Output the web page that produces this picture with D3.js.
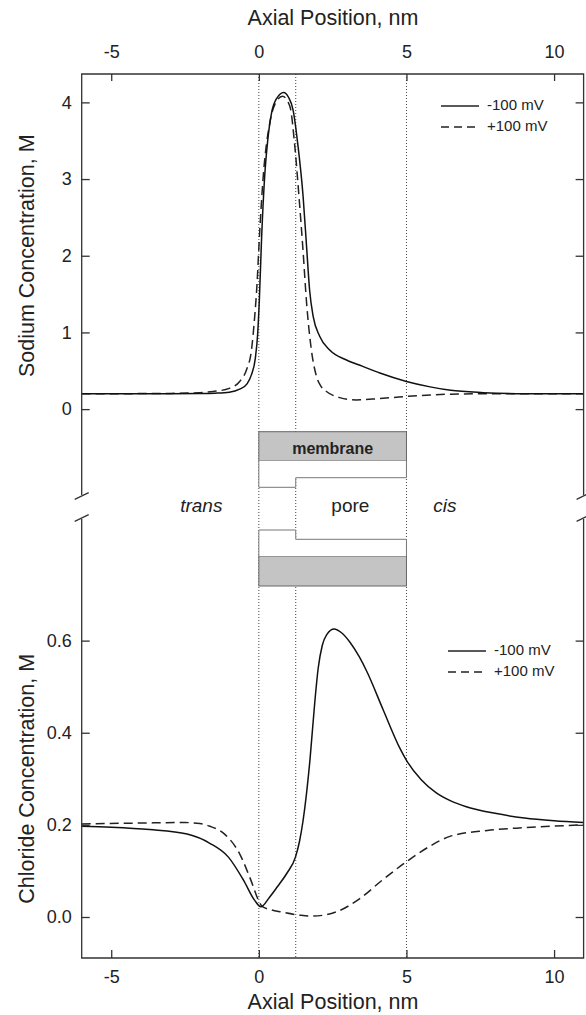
<!DOCTYPE html>
<html>
<head>
<meta charset="utf-8">
<script src="https://cdn.jsdelivr.net/npm/d3@7"></script>
<style>
  html, body { margin: 0; padding: 0; background: #fff; }
  svg { display: block; }
  text { font-family: "Liberation Sans", Arial, sans-serif; fill: #222; }
</style>
</head>
<body>
<svg id="chart" width="586" height="1015"></svg>
<script>
// ---------------- DATA ----------------
const xTicks = [-5, 0, 5, 10];
const naTicks = [0, 1, 2, 3, 4];
const clTicks = [0.0, 0.2, 0.4, 0.6];
const regionLines = [0, 1.25, 5];
const seriesNames = ["-100 mV", "+100 mV"];
const xTitle = "Axial Position, nm";
const naTitle = "Sodium Concentration, M";
const clTitle = "Chloride Concentration, M";
const regionLabels = ["trans", "pore", "cis"];
const regionLabelX = [-1.95, 3.1, 6.3];

// Sodium, -100 mV (solid)
const naNeg = [[-6,0.2],[-3,0.2],[-2,0.203],[-1.5,0.208],[-1,0.22],[-0.65,0.26],[-0.4,0.33],[-0.25,0.45],[-0.12,0.66],[-0.04,0.98],[0.02,1.45],[0.09,2.2],[0.2,3.05],[0.3,3.5],[0.43,3.86],[0.6,4.05],[0.84,4.13],[1.0,4.07],[1.16,3.9],[1.33,3.42],[1.5,2.77],[1.62,2.1],[1.72,1.55],[1.84,1.21],[2.06,0.95],[2.4,0.77],[2.97,0.64],[3.5,0.56],[4.1,0.47],[5.0,0.36],[5.8,0.29],[6.5,0.245],[7.6,0.215],[9,0.2],[11,0.2]];
// Sodium, +100 mV (dashed)
const naPos = [[-6,0.2],[-3,0.205],[-2,0.215],[-1.55,0.23],[-1,0.27],[-0.65,0.36],[-0.42,0.51],[-0.25,0.77],[-0.14,1.21],[-0.06,1.64],[0.0,2.1],[0.14,2.99],[0.37,3.73],[0.55,3.98],[0.8,4.08],[1.05,3.95],[1.22,3.42],[1.36,2.77],[1.5,2.05],[1.61,1.42],[1.78,0.77],[1.95,0.43],[2.1,0.3],[2.29,0.23],[2.74,0.15],[3.3,0.12],[4.0,0.135],[4.66,0.155],[5.0,0.165],[5.8,0.185],[6.5,0.195],[8,0.2],[11,0.2]];
// Chloride, -100 mV (solid)
const clNeg = [[-6,0.197],[-5,0.195],[-3.7,0.19],[-2.43,0.18],[-1.66,0.16],[-1.03,0.13],[-0.52,0.08],[-0.14,0.036],[0.07,0.022],[0.35,0.042],[0.62,0.065],[0.95,0.095],[1.24,0.13],[1.38,0.165],[1.5,0.21],[1.73,0.34],[1.9,0.47],[2.01,0.54],[2.15,0.59],[2.3,0.613],[2.55,0.625],[2.8,0.617],[3.08,0.597],[3.4,0.565],[3.65,0.534],[4.21,0.45],[4.78,0.366],[5.0,0.34],[5.5,0.298],[6.0,0.27],[6.5,0.252],[7.0,0.24],[8,0.225],[9,0.215],[10,0.209],[11,0.205]];
// Chloride, +100 mV (dashed)
const clPos = [[-6,0.202],[-4,0.204],[-2.5,0.205],[-2,0.203],[-1.66,0.197],[-1.16,0.18],[-0.65,0.137],[-0.27,0.08],[-0.01,0.036],[0.11,0.023],[0.4,0.016],[0.75,0.011],[1.39,0.004],[1.77,0.002],[2.2,0.004],[2.66,0.012],[3.42,0.04],[4.18,0.08],[5.0,0.12],[5.83,0.155],[6.47,0.175],[7.74,0.188],[9,0.194],[11,0.2]];

// ---------------- LAYOUT ----------------
const svg = d3.select("#chart");
const L = 81.7, R = 583.6;
const topY0 = 74, topY1 = 495;      // top panel vertical extent
const botY0 = 519, botY1 = 958;     // bottom panel vertical extent
const axisColor = "#333";

const x = d3.scaleLinear().domain([-6, 11]).range([L, R]);
const yNa = d3.scaleLinear().domain([-1.12, 4.37]).range([topY1, topY0]);
const yCl = d3.scaleLinear().domain([-0.089, 0.864]).range([botY1, botY0]);

// dotted region lines
svg.append("g").selectAll("line").data(regionLines).join("line")
  .attr("x1", d => x(d)).attr("x2", d => x(d))
  .attr("y1", topY0).attr("y2", botY1)
  .attr("stroke", "#444").attr("stroke-width", 1)
  .attr("stroke-dasharray", "1,2");

// ---------------- membrane diagram ----------------
const diag = svg.append("g");
const x0 = x(regionLines[0]), x1 = x(regionLines[1]), x5 = x(regionLines[2]);
const rectTop = [431.7, 460.7], rectBot = [556, 586];
diag.append("rect").attr("x", x0).attr("y", rectTop[0]).attr("width", x5 - x0).attr("height", rectTop[1]-rectTop[0])
  .attr("fill", "#c4c4c4").attr("stroke", "#666").attr("stroke-width", 1);
diag.append("rect").attr("x", x0).attr("y", rectBot[0]).attr("width", x5 - x0).attr("height", rectBot[1]-rectBot[0])
  .attr("fill", "#c4c4c4").attr("stroke", "#666").attr("stroke-width", 1);
const upperPoly = [[x0,460.7],[x0,487.3],[x1,487.3],[x1,477.7],[x5,477.7],[x5,460.7]];
const lowerPoly = [[x0,556],[x0,530],[x1,530],[x1,539.3],[x5,539.3],[x5,556]];
diag.append("path").attr("d", d3.line()(upperPoly)).attr("fill", "#fff").attr("stroke", "#777").attr("stroke-width", 1);
diag.append("path").attr("d", d3.line()(lowerPoly)).attr("fill", "#fff").attr("stroke", "#777").attr("stroke-width", 1);
diag.append("text").attr("x", (x0 + x5) / 2).attr("y", 450).attr("text-anchor", "middle")
  .attr("dominant-baseline", "middle").attr("font-weight", "bold").attr("font-size", 16).text("membrane");
svg.append("g").selectAll("text").data(regionLabels).join("text")
  .attr("x", (d, i) => x(regionLabelX[i])).attr("y", 507).attr("text-anchor", "middle")
  .attr("dominant-baseline", "middle").attr("font-size", 19)
  .attr("font-style", (d, i) => i === 1 ? "normal" : "italic")
  .text(d => d);

// ---------------- curves ----------------
const lineNa = d3.line().x(d => x(d[0])).y(d => yNa(d[1])).curve(d3.curveMonotoneX);
const lineCl = d3.line().x(d => x(d[0])).y(d => yCl(d[1])).curve(d3.curveMonotoneX);
const dash = "9,5";
svg.append("path").attr("d", lineNa(naPos)).attr("fill", "none").attr("stroke", "#222").attr("stroke-width", 1.5).attr("stroke-dasharray", dash);
svg.append("path").attr("d", lineNa(naNeg)).attr("fill", "none").attr("stroke", "#111").attr("stroke-width", 1.5);
svg.append("path").attr("d", lineCl(clPos)).attr("fill", "none").attr("stroke", "#222").attr("stroke-width", 1.5).attr("stroke-dasharray", dash);
svg.append("path").attr("d", lineCl(clNeg)).attr("fill", "none").attr("stroke", "#111").attr("stroke-width", 1.5);

// ---------------- axes ----------------
function styleAxis(g) {
  g.selectAll(".domain").remove();
  g.selectAll(".tick line").attr("stroke", axisColor).attr("stroke-width", 1.3);
  g.selectAll(".tick text").attr("font-size", 18).attr("fill", "#222")
    .attr("font-family", '"Liberation Sans", Arial, sans-serif');
}
// frame lines
const frame = svg.append("g").attr("stroke", axisColor).attr("stroke-width", 1.3).attr("fill", "none");
frame.append("path").attr("d", `M${L},${topY1}V${topY0}H${R}V${topY1}`);
frame.append("path").attr("d", `M${L},${botY0}V${botY1}H${R}V${botY0}`);
// break marks
[L, R].forEach(px => {
  [topY1 + 1, botY0 - 1].forEach(py => {
    frame.append("line").attr("x1", px - 7).attr("y1", py + 3.4).attr("x2", px + 7).attr("y2", py - 3.4);
  });
});

const intFmt = d => String(d);
const decFmt = d => d.toFixed(1);
svg.append("g").attr("transform", `translate(0,${topY0})`)
  .call(d3.axisTop(x).tickValues(xTicks).tickSize(-7).tickPadding(16).tickFormat(intFmt)).call(styleAxis);
svg.append("g").attr("transform", `translate(0,${botY1})`)
  .call(d3.axisBottom(x).tickValues(xTicks).tickSize(-8).tickPadding(12).tickFormat(intFmt)).call(styleAxis);
svg.append("g").attr("transform", `translate(${L},0)`)
  .call(d3.axisLeft(yNa).tickValues(naTicks).tickSize(-8).tickPadding(10).tickFormat(intFmt)).call(styleAxis);
svg.append("g").attr("transform", `translate(${R},0)`)
  .call(d3.axisRight(yNa).tickValues(naTicks).tickSize(-8).tickFormat("")).call(styleAxis);
svg.append("g").attr("transform", `translate(${L},0)`)
  .call(d3.axisLeft(yCl).tickValues(clTicks).tickSize(-8).tickPadding(10).tickFormat(decFmt)).call(styleAxis);
svg.append("g").attr("transform", `translate(${R},0)`)
  .call(d3.axisRight(yCl).tickValues(clTicks).tickSize(-8).tickFormat("")).call(styleAxis);

// titles
svg.append("text").attr("x", 333).attr("y", 25).attr("text-anchor", "middle").attr("font-size", 21.5).text(xTitle);
svg.append("text").attr("x", 333).attr("y", 1009).attr("text-anchor", "middle").attr("font-size", 21.5).text(xTitle);
svg.append("text").attr("transform", `translate(34,${yNa(2)}) rotate(-90)`).attr("text-anchor", "middle").attr("font-size", 21.5).text(naTitle);
svg.append("text").attr("transform", `translate(34,${yCl(0.3)}) rotate(-90)`).attr("text-anchor", "middle").attr("font-size", 21.5).text(clTitle);

// legends
function legend(lx, ly) {
  const g = svg.append("g");
  seriesNames.forEach((name, i) => {
    const yy = ly + i * 21;
    g.append("line").attr("x1", lx).attr("x2", lx + 38).attr("y1", yy).attr("y2", yy)
      .attr("stroke", "#222").attr("stroke-width", 1.5)
      .attr("stroke-dasharray", i === 1 ? "8,5" : null);
    g.append("text").attr("x", lx + 46).attr("y", yy).attr("dominant-baseline", "middle")
      .attr("font-size", 15).text(name);
  });
}
legend(441, 106);
legend(448, 651);
</script>
</body>
</html>
